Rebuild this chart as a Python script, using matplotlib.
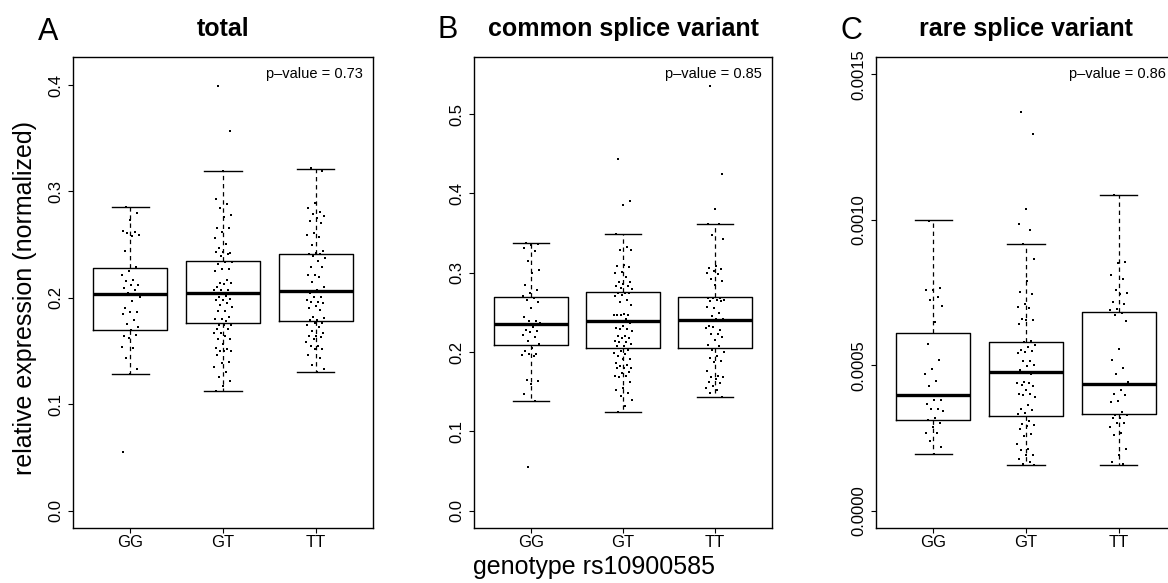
import numpy as np
import matplotlib
matplotlib.use('Agg')
import matplotlib.pyplot as plt

# Helvetica-like font, fallback to DejaVu
plt.rcParams['font.family'] = ['Liberation Sans', 'DejaVu Sans']

genotypes = ['GG', 'GT', 'TT']

# ---------------- Panel A: total ----------------
total_gg = [0.285, 0.280, 0.273, 0.263, 0.262, 0.261, 0.259, 0.258, 0.244, 0.229, 0.225,
            0.221, 0.217, 0.216, 0.212, 0.212, 0.209, 0.207, 0.205, 0.201, 0.197, 0.190,
            0.187, 0.187, 0.185, 0.179, 0.175, 0.173, 0.170, 0.164, 0.165, 0.162, 0.154,
            0.153, 0.143, 0.133, 0.128, 0.055]
total_gt = [0.399, 0.357, 0.319, 0.293, 0.288, 0.284, 0.278, 0.276, 0.266, 0.266, 0.262,
            0.256, 0.251, 0.247, 0.242, 0.243, 0.243, 0.241, 0.239, 0.234, 0.234, 0.232,
            0.227, 0.227, 0.225, 0.217, 0.214, 0.214, 0.213, 0.210, 0.207, 0.207, 0.207,
            0.202, 0.201, 0.199, 0.198, 0.198, 0.195, 0.193, 0.191, 0.188, 0.188, 0.182,
            0.180, 0.180, 0.178, 0.174, 0.174, 0.174, 0.171, 0.171, 0.167, 0.167, 0.164,
            0.161, 0.161, 0.157, 0.153, 0.152, 0.150, 0.150, 0.150, 0.146, 0.140, 0.139,
            0.135, 0.130, 0.126, 0.122, 0.117, 0.112]
total_tt = [0.322, 0.319, 0.289, 0.284, 0.281, 0.279, 0.277, 0.275, 0.272, 0.270, 0.261,
            0.259, 0.257, 0.250, 0.244, 0.242, 0.241, 0.241, 0.239, 0.237, 0.235, 0.229,
            0.229, 0.221, 0.221, 0.220, 0.215, 0.210, 0.207, 0.205, 0.201, 0.201, 0.198,
            0.196, 0.196, 0.195, 0.192, 0.190, 0.189, 0.182, 0.181, 0.179, 0.179, 0.176,
            0.176, 0.174, 0.173, 0.169, 0.167, 0.164, 0.164, 0.163, 0.161, 0.158, 0.155,
            0.155, 0.152, 0.152, 0.146, 0.143, 0.137, 0.133, 0.130]
total_med = [0.204, 0.205, 0.206]
total_q1 = [0.170, 0.1765, 0.178]
total_q3 = [0.228, 0.235, 0.241]
total_lo = [0.128, 0.112, 0.130]
total_hi = [0.285, 0.319, 0.3215]

# ---------------- Panel B: common splice variant ----------------
common_gg = [0.338, 0.336, 0.335, 0.331, 0.327, 0.315, 0.303, 0.299, 0.284, 0.278, 0.274,
             0.270, 0.268, 0.266, 0.263, 0.255, 0.244, 0.239, 0.239, 0.237, 0.231, 0.228,
             0.226, 0.225, 0.222, 0.219, 0.214, 0.210, 0.205, 0.201, 0.198, 0.197, 0.196,
             0.195, 0.165, 0.163, 0.160, 0.147, 0.138, 0.055]
common_gt = [0.443, 0.391, 0.385, 0.349, 0.333, 0.329, 0.328, 0.310, 0.309, 0.307, 0.301,
             0.300, 0.294, 0.288, 0.288, 0.286, 0.283, 0.283, 0.281, 0.279, 0.275, 0.275,
             0.275, 0.272, 0.270, 0.265, 0.263, 0.259, 0.248, 0.247, 0.246, 0.246, 0.246,
             0.241, 0.238, 0.237, 0.233, 0.230, 0.229, 0.229, 0.226, 0.220, 0.220, 0.217,
             0.217, 0.214, 0.212, 0.212, 0.210, 0.207, 0.207, 0.202, 0.201, 0.199, 0.198,
             0.195, 0.191, 0.191, 0.186, 0.184, 0.182, 0.180, 0.180, 0.180, 0.175, 0.174,
             0.170, 0.170, 0.168, 0.162, 0.155, 0.152, 0.148, 0.145, 0.139, 0.132, 0.124]
common_tt = [0.536, 0.425, 0.380, 0.362, 0.361, 0.347, 0.342, 0.308, 0.306, 0.305, 0.302,
             0.299, 0.298, 0.292, 0.289, 0.285, 0.268, 0.268, 0.268, 0.266, 0.266, 0.264,
             0.264, 0.255, 0.257, 0.249, 0.245, 0.242, 0.241, 0.233, 0.228, 0.231, 0.230,
             0.223, 0.223, 0.219, 0.215, 0.209, 0.207, 0.202, 0.200, 0.195, 0.193, 0.189,
             0.187, 0.176, 0.170, 0.169, 0.168, 0.166, 0.162, 0.161, 0.157, 0.155, 0.152,
             0.148, 0.143]
common_med = [0.2357, 0.239, 0.240]
common_q1 = [0.2085, 0.2053, 0.2053]
common_q3 = [0.269, 0.2756, 0.269]
common_lo = [0.138, 0.124, 0.143]
common_hi = [0.337, 0.349, 0.362]

# ---------------- Panel C: rare splice variant (values in units of 1e-3) ----------------
rare_gg = [0.997, 0.767, 0.759, 0.757, 0.735, 0.723, 0.704, 0.650, 0.574, 0.517, 0.487,
           0.470, 0.444, 0.430, 0.381, 0.379, 0.367, 0.351, 0.350, 0.342, 0.319, 0.313,
           0.300, 0.287, 0.268, 0.266, 0.239, 0.220, 0.195]
rare_gt = [1.372, 1.294, 1.037, 0.987, 0.964, 0.916, 0.864, 0.788, 0.752, 0.745, 0.711,
           0.700, 0.698, 0.660, 0.656, 0.654, 0.642, 0.582, 0.580, 0.568, 0.561, 0.553,
           0.550, 0.544, 0.542, 0.516, 0.513, 0.500, 0.498, 0.485, 0.468, 0.441, 0.440,
           0.439, 0.433, 0.427, 0.413, 0.401, 0.400, 0.397, 0.391, 0.364, 0.350, 0.345,
           0.334, 0.333, 0.307, 0.298, 0.295, 0.290, 0.281, 0.262, 0.255, 0.230, 0.211,
           0.210, 0.192, 0.190, 0.179, 0.166, 0.160, 0.156]
rare_tt = [1.086, 0.855, 0.853, 0.809, 0.796, 0.757, 0.748, 0.746, 0.718, 0.711, 0.693,
           0.690, 0.681, 0.674, 0.651, 0.557, 0.517, 0.491, 0.468, 0.443, 0.416, 0.402,
           0.396, 0.378, 0.375, 0.338, 0.330, 0.329, 0.319, 0.317, 0.302, 0.300, 0.287,
           0.268, 0.259, 0.211, 0.192, 0.166, 0.160]
rare_med = [0.399, 0.475, 0.434]
rare_q1 = [0.310, 0.325, 0.333]
rare_q3 = [0.610, 0.579, 0.682]
rare_lo = [0.195, 0.156, 0.158]
rare_hi = [0.998, 0.916, 1.086]


def draw_panel(ax, points, med, q1, q3, lo, hi, ytop, yticks, ylabels, title, pvalue, scale=1.0):
    """Draw one R-style boxplot panel with jittered points on top"""
    stats = []
    for i in range(3):
        stats.append(dict(med=med[i] * scale, q1=q1[i] * scale, q3=q3[i] * scale,
                          whislo=lo[i] * scale, whishi=hi[i] * scale, fliers=[]))
    ax.bxp(stats, positions=[1, 2, 3], widths=0.8, capwidths=0.4, showfliers=False,
           boxprops=dict(color='black', lw=1.0),
           medianprops=dict(color='black', lw=2.4, solid_capstyle='butt'),
           whiskerprops=dict(color='black', lw=0.9, linestyle=(0, (3.5, 3))),
           capprops=dict(color='black', lw=1.0))

    # stripchart-like jitter (deterministic spread of +-0.1 around each group)
    for i, vals in enumerate(points):
        vals = np.asarray(vals) * scale
        n = len(vals)
        jitter = ((np.arange(n) * 0.618034 + 0.25) % 1 - 0.5) * 0.2
        ax.scatter(i + 1 + jitter, vals, s=2.0, marker='s', color='black', lw=0, zorder=3)

    # R default axis extension of 4%
    span = ytop * scale
    ax.set_ylim(-0.04 * span, 1.04 * span)
    ax.set_xlim(0.38, 3.62)
    ax.set_xticks([1, 2, 3])
    ax.set_xticklabels(genotypes)
    ax.set_yticks(np.asarray(yticks) * scale)
    ax.set_yticklabels(ylabels, rotation=90, va='center')
    ax.tick_params(direction='out', length=3.6, width=0.8, labelsize=12, pad=3.5)
    ax.tick_params(axis='x', pad=1.5)
    for sp in ax.spines.values():
        sp.set_linewidth(1.0)
    ax.set_title(title, fontsize=18, fontweight='bold', pad=15)
    ax.text(1 - 10 / 300, 0.964, 'p\u2013value = ' + pvalue, transform=ax.transAxes,
            ha='right', va='center', fontsize=10.5)


fig = plt.figure(figsize=(11.68, 5.83), dpi=100)
bottom = 1 - 528 / 583
height = (528 - 57) / 583

ax1 = fig.add_axes([73 / 1168, bottom, 300 / 1168, height])
ax2 = fig.add_axes([474 / 1168, bottom, 298 / 1168, height])
ax3 = fig.add_axes([876 / 1168, bottom, 300 / 1168, height])

draw_panel(ax1, [total_gg, total_gt, total_tt], total_med, total_q1, total_q3, total_lo, total_hi,
           0.41, [0, 0.1, 0.2, 0.3, 0.4], ['0.0', '0.1', '0.2', '0.3', '0.4'], 'total', '0.73')
draw_panel(ax2, [common_gg, common_gt, common_tt], common_med, common_q1, common_q3, common_lo,
           common_hi, 0.55, [0, 0.1, 0.2, 0.3, 0.4, 0.5],
           ['0.0', '0.1', '0.2', '0.3', '0.4', '0.5'], 'common splice variant', '0.85')
draw_panel(ax3, [rare_gg, rare_gt, rare_tt], rare_med, rare_q1, rare_q3, rare_lo, rare_hi,
           1.5, [0, 0.5, 1.0, 1.5], ['0.0000', '0.0005', '0.0010', '0.0015'],
           'rare splice variant', '0.86', scale=1e-3)

# panel letters
fig.text(48 / 1168, 1 - 40 / 583, 'A', fontsize=22, ha='center', va='baseline')
fig.text(448 / 1168, 1 - 38 / 583, 'B', fontsize=22, ha='center', va='baseline')
fig.text(851 / 1168, 1 - 39 / 583, 'C', fontsize=22, ha='center', va='baseline')

# shared axis labels
fig.text(25 / 1168, 1 - 298 / 583, 'relative expression (normalized)', fontsize=18,
         rotation=90, ha='center', va='center')
fig.text(594 / 1168, 1 - 567 / 583, 'genotype rs10900585', fontsize=18, ha='center', va='center')

fig.savefig('out.png', dpi=100)
